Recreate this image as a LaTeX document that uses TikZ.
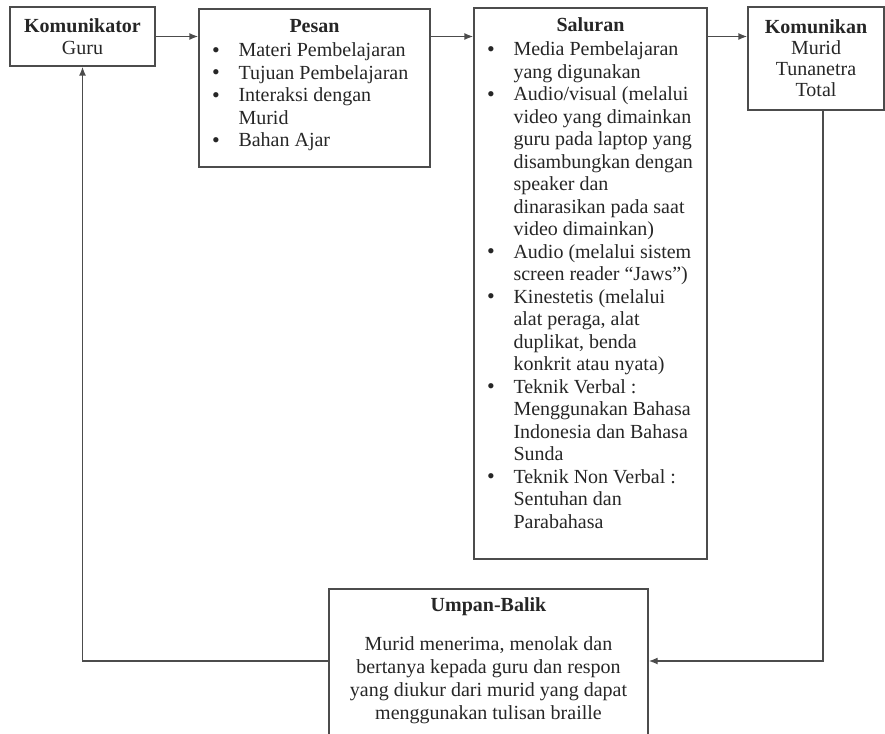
\documentclass[tikz,border=0pt]{standalone}
\usepackage{fontspec}
\setmainfont{Liberation Serif}
\usetikzlibrary{arrows.meta}

\newcommand{\butir}{\makebox[26.5pt][l]{\raisebox{-0.5pt}{\fontsize{22}{22.5}\selectfont\textbullet}}}
\newcommand{\lanjut}{\hspace*{26.5pt}}

\begin{document}
\begin{tikzpicture}[x=1pt, y=-1pt,
		kotak/.style={draw=black!70, line width=1.4pt, inner sep=0pt},
		judul/.style={inner sep=0pt, font=\fontsize{20}{22.5}\selectfont\bfseries},
		isi/.style={inner sep=0pt, align=left, font=\fontsize{20}{22.5}\selectfont},
		panah/.style={draw=black!70, line width=1.4pt, -{Latex[length=9pt,width=7pt]}}]
		\tikzstyle{every node}=[text=black!85]
		\useasboundingbox (0,0) rectangle (885,733);
		\clip (0,0) rectangle (885,733);

		\node[kotak, align=center, minimum width=145pt, minimum height=59pt,
			font=\fontsize{20}{22}\selectfont] (komunikator) at (82.5,36.5)
			{\textbf{Komunikator}\\Guru};

		\node[kotak, minimum width=231pt, minimum height=158pt] (pesan) at (314.5,88) {};
		\node[judul, anchor=base] (pesanJudul) at ([yshift=-24pt]pesan.north) {Pesan};
		\node[isi, anchor=north west] (pesanIsi) at ([xshift=13.5pt,yshift=-34.3pt]pesan.north west) {
			\butir Materi Pembelajaran\\
			\butir Tujuan Pembelajaran\\
			\butir Interaksi dengan\\
			\lanjut Murid\\
			\butir Bahan Ajar};

		\node[kotak, minimum width=233pt, minimum height=551pt] (saluran) at (590.5,283.5) {};
		\node[judul, anchor=base] (saluranJudul) at ([yshift=-24pt]saluran.north) {Saluran};
		\node[isi, anchor=north west] (saluranIsi) at ([xshift=13.5pt,yshift=-34.3pt]saluran.north west) {
			\butir Media Pembelajaran\\
			\lanjut yang digunakan\\
			\butir Audio/visual (melalui\\
			\lanjut video yang dimainkan\\
			\lanjut guru pada laptop yang\\
			\lanjut disambungkan dengan\\
			\lanjut speaker dan\\
			\lanjut dinarasikan pada saat\\
			\lanjut video dimainkan)\\
			\butir Audio (melalui sistem\\
			\lanjut screen reader “Jaws”)\\
			\butir Kinestetis (melalui\\
			\lanjut alat peraga, alat\\
			\lanjut duplikat, benda\\
			\lanjut konkrit atau nyata)\\
			\butir Teknik Verbal :\\
			\lanjut Menggunakan Bahasa\\
			\lanjut Indonesia dan Bahasa\\
			\lanjut Sunda\\
			\butir Teknik Non Verbal :\\
			\lanjut Sentuhan dan\\
			\lanjut Parabahasa};

		\node[kotak, align=center, minimum width=136pt, minimum height=103pt,
			font=\fontsize{20}{21}\selectfont] (komunikan) at (816,58.5)
			{\textbf{Komunikan}\\Murid\\Tunanetra\\Total};

		\node[kotak, minimum width=319pt, minimum height=148pt] (umpan) at (488.5,663) {};
		\node[inner sep=0pt, align=center, anchor=north, font=\fontsize{20}{23}\selectfont]
			(umpanIsi) at ([yshift=-9.3pt]umpan.north) {
			\textbf{Umpan-Balik}\\[16pt]
			Murid menerima, menolak dan\\
			bertanya kepada guru dan respon\\
			yang diukur dari murid yang dapat\\
			menggunakan tulisan braille};

		\coordinate (balik) at (0,661);

		\draw[panah] (komunikator.east) -- (komunikator.east -| pesan.west);
		\draw[panah] (komunikator.east -| pesan.east) -- (komunikator.east -| saluran.west);
		\draw[panah] (komunikator.east -| saluran.east) -- (komunikator.east -| komunikan.west);
		\draw[panah] ([xshift=7pt]komunikan.south) |- (umpan.east |- balik);
		\draw[panah] (umpan.west |- balik) -| (komunikator.south);

\end{tikzpicture}
\end{document}
